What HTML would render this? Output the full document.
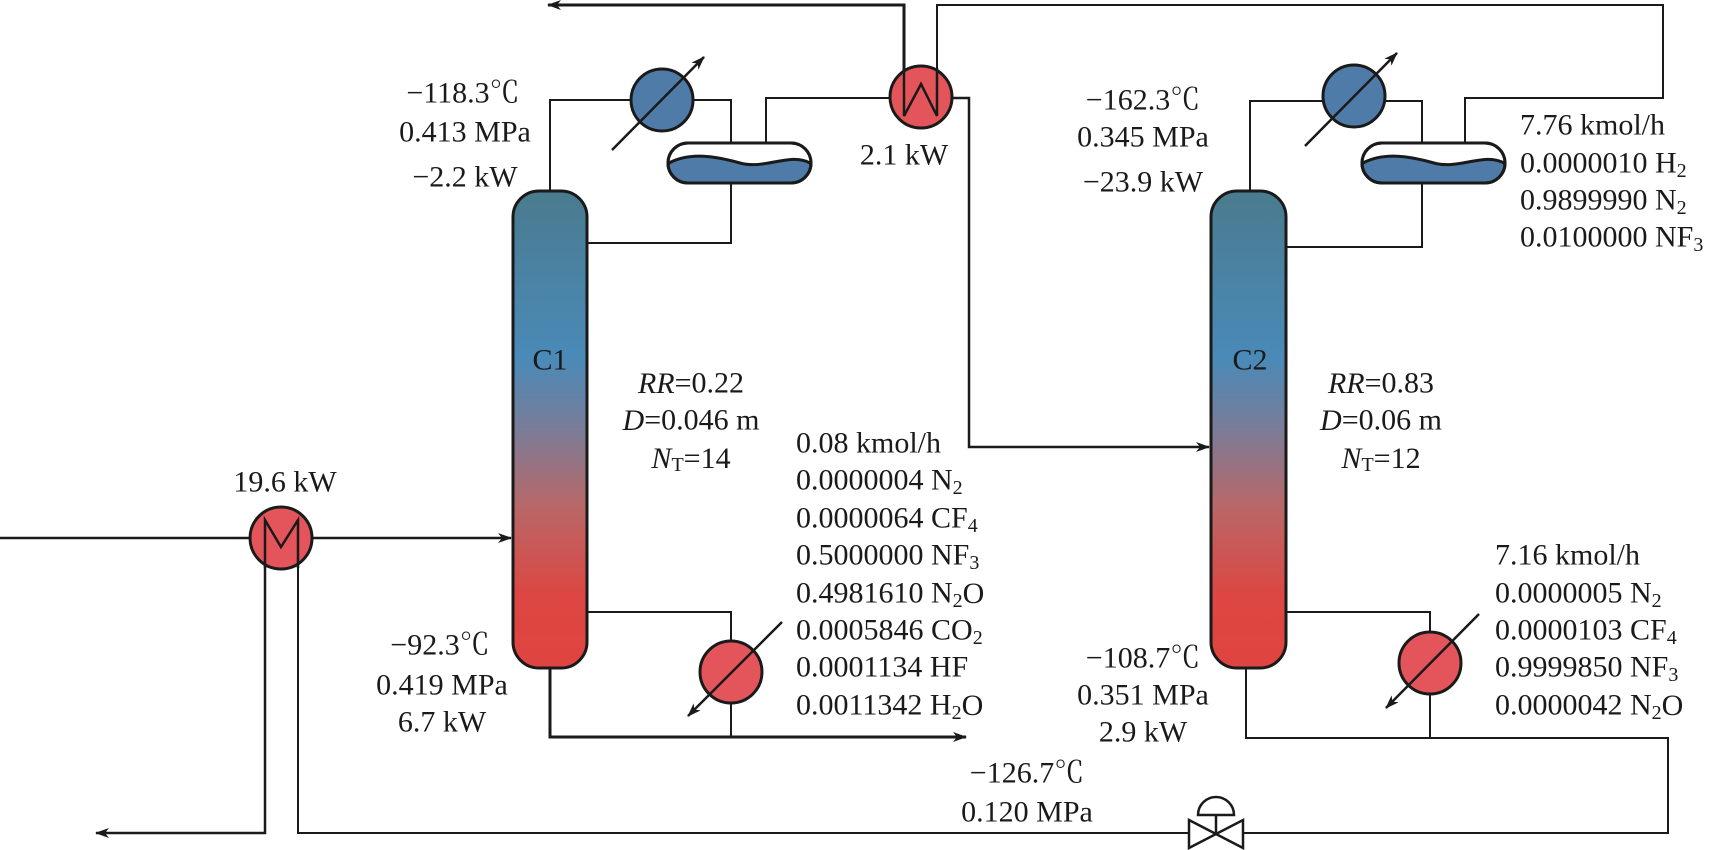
<!DOCTYPE html>
<html><head><meta charset="utf-8"><style>
html,body{margin:0;padding:0;background:#fff;}
svg{display:block;}
text{font-family:"Liberation Serif","Noto Serif CJK SC",serif;font-size:30px;fill:#1a1a1a;}
.s{font-size:20px;}
</style></head><body>
<svg width="1712" height="850" viewBox="0 0 1712 850" xmlns="http://www.w3.org/2000/svg">
<defs>
<linearGradient id="g" x1="0" y1="0" x2="0" y2="1">
<stop offset="0" stop-color="#4a7b8e"/>
<stop offset="0.35" stop-color="#4a8ab8"/>
<stop offset="0.5" stop-color="#7a7c98"/>
<stop offset="0.66" stop-color="#b86868"/>
<stop offset="0.85" stop-color="#dd4642"/>
<stop offset="1" stop-color="#e04440"/>
</linearGradient>
<marker id="a" markerWidth="14" markerHeight="10" refX="13" refY="5" orient="auto" markerUnits="userSpaceOnUse">
<path d="M0,0 L14,5 L0,10 L4,5 Z" fill="#1a1a1a"/>
</marker>
</defs>
<g stroke="#1a1a1a" stroke-width="2" fill="none">
<!-- top line from W -->
<path d="M904,97 L904,5 L548,5" stroke-width="3" marker-end="url(#a)"/>
<path d="M937,97 L937,5 L1663,5 L1663,98 L1465,98 L1465,143"/>
<!-- C1 overhead -->
<path d="M550,191 L550,100 L731,100 L731,143"/>
<path d="M766,143 L766,98 L921,98"/>
<path d="M731,183 L731,243 L587,243"/>
<!-- W to C2 -->
<path d="M921,98 L969,98 L969,447 L1209,447" stroke-width="2.5" marker-end="url(#a)"/>
<!-- feed -->
<path d="M0,538 L511,538" stroke-width="2.5" marker-end="url(#a)"/>
<!-- M exchanger legs -->
<path d="M265,560 L265,833 L96,833" stroke-width="2.5" marker-end="url(#a)"/>
<path d="M298,560 L298,833 L1668,833 L1668,738 L1246,738 L1246,668"/>
<!-- C1 bottoms -->
<path d="M550,668 L550,737 L966,737" stroke-width="3" marker-end="url(#a)"/>
<path d="M587,612 L731,612 L731,737"/>
<!-- C2 overhead -->
<path d="M1250,191 L1250,101 L1422,101 L1422,143"/>
<path d="M1422,183 L1422,247 L1286,247"/>
<!-- C2 reboiler -->
<path d="M1286,612 L1430,612 L1430,738"/>
</g>
<!-- columns -->
<rect x="513" y="191" width="74" height="477" rx="26" ry="26" fill="url(#g)" stroke="#1a1a1a" stroke-width="3"/>
<rect x="1211" y="191" width="75" height="477" rx="26" ry="26" fill="url(#g)" stroke="#1a1a1a" stroke-width="3"/>
<!-- drums -->
<g stroke="#1a1a1a" stroke-width="3">
<rect x="668" y="143" width="143" height="40" rx="20" fill="#fff"/>
<path d="M669,163 C690,152 715,156 740,163 C765,170 790,152 810,163 L811,165 A20,20 0 0 1 791,183 L688,183 A20,20 0 0 1 668,165 Z" fill="#4e7ba8"/>
<rect x="668" y="143" width="143" height="40" rx="20" fill="none"/>
<rect x="1362" y="143" width="143" height="40" rx="20" fill="#fff"/>
<path d="M1363,163 C1384,152 1409,156 1434,163 C1459,170 1484,152 1504,163 L1505,165 A20,20 0 0 1 1485,183 L1382,183 A20,20 0 0 1 1362,165 Z" fill="#4e7ba8"/>
<rect x="1362" y="143" width="143" height="40" rx="20" fill="none"/>
<!-- condensers -->
<circle cx="662" cy="100" r="31" fill="#4e7ba8"/>
<circle cx="1354" cy="96" r="31" fill="#4e7ba8"/>
<!-- reboilers -->
<circle cx="731" cy="672" r="31" fill="#e3555a"/>
<circle cx="1430" cy="663" r="31" fill="#e3555a"/>
<!-- W and M -->
<circle cx="921" cy="97" r="31" fill="#e3555a"/>
<circle cx="281" cy="538" r="31" fill="#e3555a"/>
</g>
<g stroke="#1a1a1a" stroke-width="2.5" fill="none">
<path d="M904,68 L904,116 L921,84 L937,116 L937,68"/>
<path d="M265,568 L265,520 L281,547 L298,520 L298,568"/>
<path d="M612,150 L704,57" marker-end="url(#a)"/>
<path d="M1305,146 L1397,53" marker-end="url(#a)"/>
<path d="M782,622 L688,716" marker-end="url(#a)"/>
<path d="M1479,614 L1386,708" marker-end="url(#a)"/>
</g>
<!-- valve -->
<g stroke="#1a1a1a" stroke-width="2.5">
<path d="M1189,820 L1243,848 L1243,820 L1189,848 Z" fill="#fff"/>
<path d="M1216,834 L1216,815"/>
<path d="M1198,815 A18,18 0 0 1 1234,815 Z" fill="#fff"/>
</g>
<!-- labels -->
<g text-anchor="middle" dominant-baseline="central">
<text x="463" y="93">−118.3℃</text>
<text x="465" y="132">0.413 MPa</text>
<text x="465" y="177">−2.2 kW</text>
<text x="904" y="155">2.1 kW</text>
<text x="1143" y="100">−162.3℃</text>
<text x="1143" y="137">0.345 MPa</text>
<text x="1143" y="182">−23.9 kW</text>
<text x="550" y="360">C1</text>
<text x="1250" y="360">C2</text>
<text x="691" y="383"><tspan font-style="italic">RR</tspan>=0.22</text>
<text x="691" y="420"><tspan font-style="italic">D</tspan>=0.046 m</text>
<text x="691" y="458"><tspan font-style="italic">N</tspan><tspan class="s" dy="7">T</tspan><tspan dy="-7">=14</tspan></text>
<text x="1381" y="383"><tspan font-style="italic">RR</tspan>=0.83</text>
<text x="1381" y="420"><tspan font-style="italic">D</tspan>=0.06 m</text>
<text x="1381" y="458"><tspan font-style="italic">N</tspan><tspan class="s" dy="7">T</tspan><tspan dy="-7">=12</tspan></text>
<text x="285" y="482">19.6 kW</text>
<text x="440" y="645">−92.3℃</text>
<text x="442" y="685">0.419 MPa</text>
<text x="442" y="722">6.7 kW</text>
<text x="1143" y="658">−108.7℃</text>
<text x="1143" y="695">0.351 MPa</text>
<text x="1143" y="732">2.9 kW</text>
<text x="1027" y="773">−126.7℃</text>
<text x="1027" y="812">0.120 MPa</text>
</g>
<g dominant-baseline="central">
<text x="796" y="443">0.08 kmol/h</text>
<text x="796" y="480">0.0000004 N<tspan class="s" dy="8">2</tspan></text>
<text x="796" y="518">0.0000064 CF<tspan class="s" dy="8">4</tspan></text>
<text x="796" y="555">0.5000000 NF<tspan class="s" dy="8">3</tspan></text>
<text x="796" y="593">0.4981610 N<tspan class="s" dy="8">2</tspan><tspan dy="-8">O</tspan></text>
<text x="796" y="630">0.0005846 CO<tspan class="s" dy="8">2</tspan></text>
<text x="796" y="667">0.0001134 HF</text>
<text x="796" y="705">0.0011342 H<tspan class="s" dy="8">2</tspan><tspan dy="-8">O</tspan></text>
<text x="1520" y="125">7.76 kmol/h</text>
<text x="1520" y="163">0.0000010 H<tspan class="s" dy="8">2</tspan></text>
<text x="1520" y="200">0.9899990 N<tspan class="s" dy="8">2</tspan></text>
<text x="1520" y="237">0.0100000 NF<tspan class="s" dy="8">3</tspan></text>
<text x="1495" y="555">7.16 kmol/h</text>
<text x="1495" y="593">0.0000005 N<tspan class="s" dy="8">2</tspan></text>
<text x="1495" y="630">0.0000103 CF<tspan class="s" dy="8">4</tspan></text>
<text x="1495" y="667">0.9999850 NF<tspan class="s" dy="8">3</tspan></text>
<text x="1495" y="705">0.0000042 N<tspan class="s" dy="8">2</tspan><tspan dy="-8">O</tspan></text>
</g>
</svg>
</body></html>
